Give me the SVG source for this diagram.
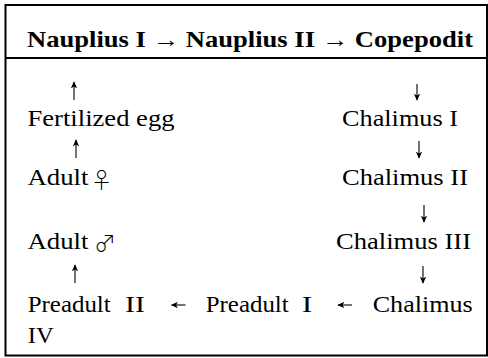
<svg xmlns="http://www.w3.org/2000/svg" width="488" height="358" viewBox="0 0 488 358">
<style>
text{font-family:"Liberation Serif","Times New Roman",serif;font-size:23.5px;fill:#000}
.t{font-weight:bold;font-size:23px}
.s{font-family:"Noto Sans CJK JP","DejaVu Sans",sans-serif;font-size:22px;font-weight:300}
.c{fill:none;stroke:#000;stroke-width:1.1;marker-end:url(#ah)}
</style>
<defs>
<marker id="ah" viewBox="0 0 10 10" refX="9" refY="5" markerWidth="7" markerHeight="7" markerUnits="userSpaceOnUse" orient="auto">
<path d="M0,0.5 L10,5 L0,9.5 L2.5,5 Z" fill="#000"/>
</marker>
</defs>
<rect x="0" y="0" width="488" height="358" fill="#fff"/>
<g id="frame" fill="none" stroke="#000" stroke-width="2">
<rect x="5.5" y="5" width="481.5" height="350.5"/>
<line x1="5.5" y1="58" x2="487" y2="58"/>
</g>
<g id="title"><text class="t" x="27" y="47" textLength="446" lengthAdjust="spacingAndGlyphs">Nauplius I → Nauplius II → Copepodit</text></g>
<g id="fertilized-egg"><text x="27.5" y="126" textLength="147" lengthAdjust="spacingAndGlyphs">Fertilized egg</text></g>
<g id="chalimus-1"><text x="342" y="126" textLength="116" lengthAdjust="spacingAndGlyphs">Chalimus I</text></g>
<g id="adult-female"><text x="27.5" y="185" textLength="61" lengthAdjust="spacingAndGlyphs">Adult</text><text class="s" x="90.5" y="188">♀</text></g>
<g id="chalimus-2"><text x="342" y="185" textLength="126" lengthAdjust="spacingAndGlyphs">Chalimus II</text></g>
<g id="adult-male"><text x="27.5" y="249" textLength="61" lengthAdjust="spacingAndGlyphs">Adult</text><text class="s" x="94" y="251">♂</text></g>
<g id="chalimus-3"><text x="336" y="249" textLength="135" lengthAdjust="spacingAndGlyphs">Chalimus III</text></g>
<g id="preadult-2"><text x="27.7" y="312" textLength="83" lengthAdjust="spacingAndGlyphs">Preadult</text><text x="125" y="312" textLength="20" lengthAdjust="spacingAndGlyphs">II</text></g>
<g id="preadult-1"><text x="205.7" y="312" textLength="83" lengthAdjust="spacingAndGlyphs">Preadult</text><text x="301.7" y="312" textLength="10.5" lengthAdjust="spacingAndGlyphs">I</text></g>
<g id="chalimus-4"><text x="372.7" y="312" textLength="100" lengthAdjust="spacingAndGlyphs">Chalimus</text><text x="27.7" y="343" textLength="26" lengthAdjust="spacingAndGlyphs">IV</text></g>
<g id="connectors">
<path class="c" d="M74,100 V82"/>
<path class="c" d="M417,84 V100"/>
<path class="c" d="M76,158 V140"/>
<path class="c" d="M419,141 V158"/>
<path class="c" d="M424,205 V222"/>
<path class="c" d="M75,283 V265"/>
<path class="c" d="M423,266 V283"/>
<path class="c" d="M185.5,305 H171.5"/>
<path class="c" d="M352,305 H338"/>
</g>
</svg>
